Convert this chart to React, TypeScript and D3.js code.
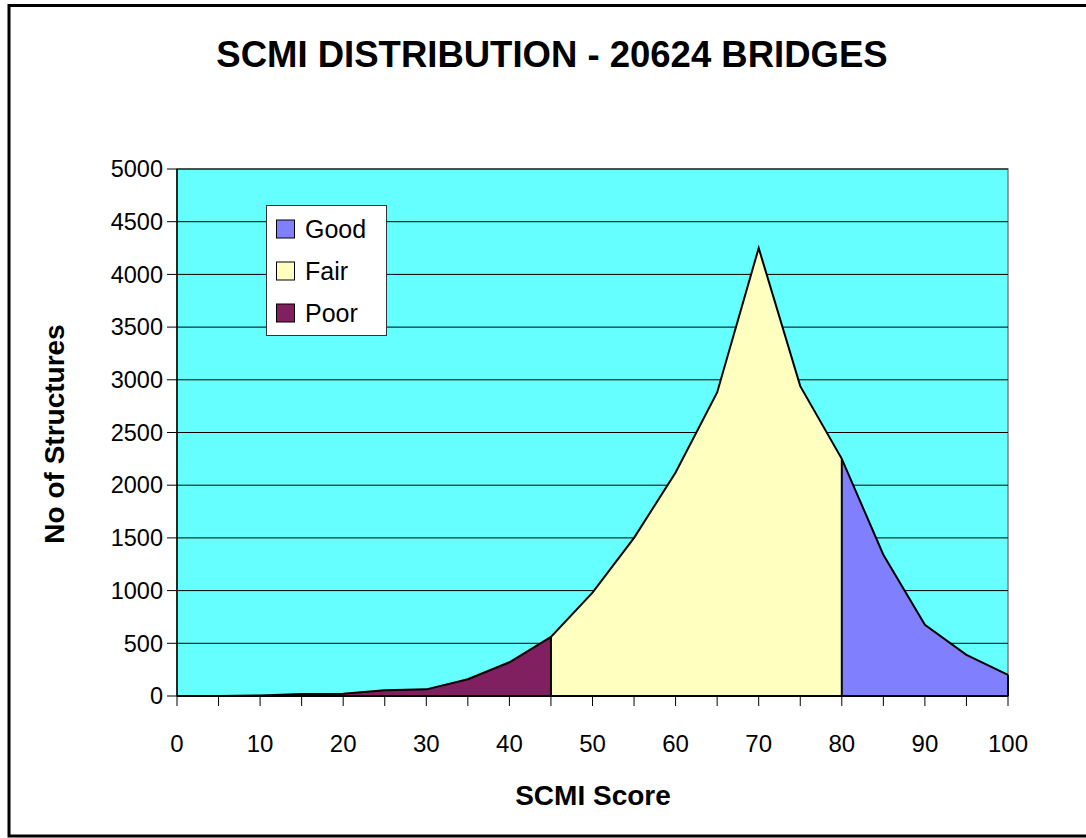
import React from "react";
import * as d3 from "d3";

const scores = [0, 5, 10, 15, 20, 25, 30, 35, 40, 45, 50, 55, 60, 65, 70, 75, 80, 85, 90, 95, 100];
const counts = [0, 0, 5, 20, 22, 54, 63, 159, 320, 560, 980, 1500, 2120, 2880, 4250, 2940, 2250, 1340, 675, 390, 200];
const xTickLabels = [0, 10, 20, 30, 40, 50, 60, 70, 80, 90, 100];
const yTicks = [0, 500, 1000, 1500, 2000, 2500, 3000, 3500, 4000, 4500, 5000];
const bands = [
  { name: "Poor", from: 0, to: 45, color: "#802060" },
  { name: "Fair", from: 45, to: 80, color: "#FFFFC0" },
  { name: "Good", from: 80, to: 100, color: "#8080FF" },
];
const legendOrder = ["Good", "Fair", "Poor"];

export default function App() {
  const W = 1086, H = 838;
  const left = 177, right = 1008, top = 169, bottom = 696;
  const x = d3.scaleLinear().domain([0, 100]).range([left, right]);
  const y = d3.scaleLinear().domain([0, 5000]).range([bottom, top]);
  const pts = scores.map((s, i) => ({ s, v: counts[i] }));
  const area = d3.area<{ s: number; v: number }>().x(d => x(d.s)).y0(y(0)).y1(d => y(d.v));
  const line = d3.line<{ s: number; v: number }>().x(d => x(d.s)).y(d => y(d.v));
  const font = "'Liberation Sans', Arial, sans-serif";
  const xMinor = d3.range(0, 101, 5);
  const valAt = (s: number) => counts[scores.indexOf(s)];

  return (
    <svg width={W} height={H} style={{ position: "absolute", left: 0, top: 0, background: "#fff" }} fontFamily={font}>
      <rect x={9} y={5.5} width={1100} height={830.5} fill="#fff" stroke="#000" strokeWidth={3} />
      <text x={552} y={67} textAnchor="middle" fontSize={36.5} fontWeight="bold">SCMI DISTRIBUTION - 20624 BRIDGES</text>
      <rect x={left} y={top} width={right - left} height={bottom - top} fill="#66FFFF" stroke="#808080" strokeWidth={1.5} />
      {yTicks.filter(t => t > 0).map(t => (
        <line key={"g" + t} x1={left} x2={right} y1={y(t)} y2={y(t)} stroke="#000" strokeWidth={1} />
      ))}
      {bands.map(b => {
        const sub = pts.filter(p => p.s >= b.from && p.s <= b.to);
        return <path key={b.name} d={area(sub) || ""} fill={b.color} stroke="none" />;
      })}
      <path d={line(pts) || ""} fill="none" stroke="#000" strokeWidth={2} />
      {[45, 80].map(s => (
        <line key={"d" + s} x1={x(s)} x2={x(s)} y1={y(0)} y2={y(valAt(s))} stroke="#000" strokeWidth={2} />
      ))}
      <line x1={right} x2={right} y1={y(0)} y2={y(valAt(100))} stroke="#000" strokeWidth={2} />
      <line x1={left} x2={left} y1={top} y2={bottom} stroke="#000" strokeWidth={1.5} />
      <line x1={left} x2={right} y1={bottom} y2={bottom} stroke="#000" strokeWidth={2} />
      {yTicks.map(t => (
        <g key={"y" + t}>
          <line x1={left - 10} x2={left} y1={y(t)} y2={y(t)} stroke="#000" strokeWidth={1} />
          <text x={left - 14} y={y(t)} dy="0.35em" textAnchor="end" fontSize={23.5}>{t}</text>
        </g>
      ))}
      {xMinor.map(t => (
        <line key={"xt" + t} x1={x(t)} x2={x(t)} y1={bottom} y2={bottom + 10} stroke="#000" strokeWidth={1} />
      ))}
      {xTickLabels.map(t => (
        <text key={"xl" + t} x={x(t)} y={752} textAnchor="middle" fontSize={24}>{t}</text>
      ))}
      <text x={593} y={805} textAnchor="middle" fontSize={28} fontWeight="bold">SCMI Score</text>
      <text transform={`translate(64,434) rotate(-90)`} textAnchor="middle" fontSize={28} fontWeight="bold">No of Structures</text>
      <g>
        <rect x={266.5} y={205.5} width={120} height={130} fill="#fff" stroke="#333" strokeWidth={1} />
        {legendOrder.map((n, i) => {
          const b = bands.find(bb => bb.name === n)!;
          const cy = 229 + i * 42;
          return (
            <g key={n}>
              <rect x={276.5} y={cy - 9} width={18} height={18} fill={b.color} stroke="#000" strokeWidth={1} />
              <text x={305} y={cy} dy="0.36em" fontSize={25}>{n}</text>
            </g>
          );
        })}
      </g>
    </svg>
  );
}
